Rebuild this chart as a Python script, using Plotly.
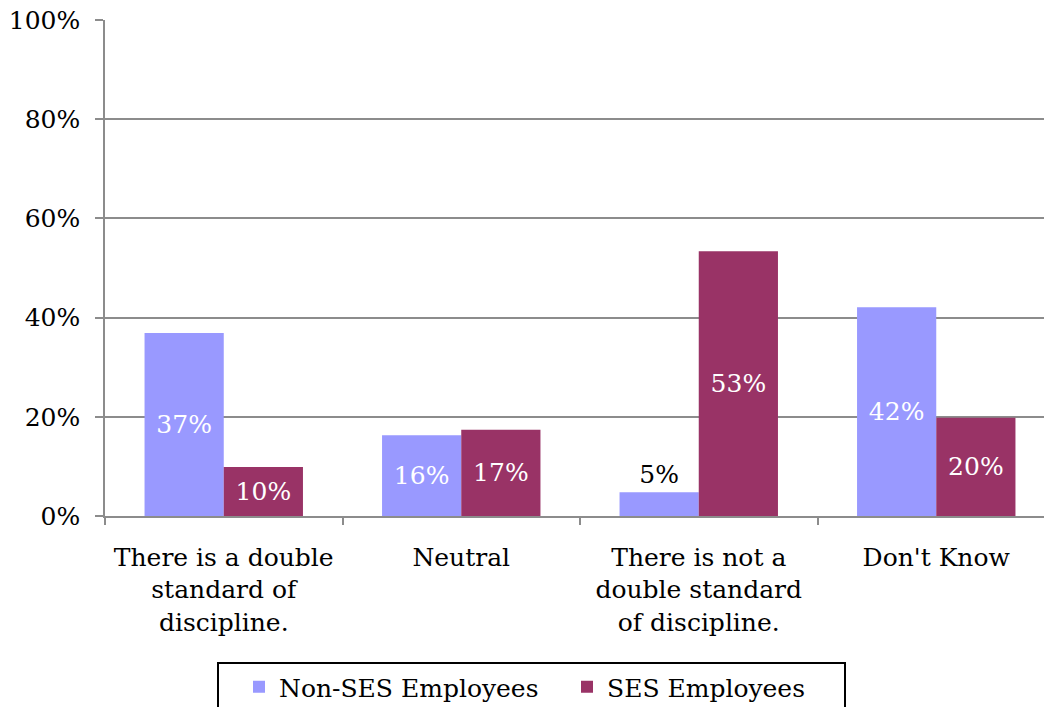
import plotly.graph_objects as go

categories = ["There is a double<br>standard of<br>discipline.", "Neutral",
              "There is not a<br>double standard<br>of discipline.", "Don't Know"]
non_ses = [0.369, 0.163, 0.048, 0.421]
ses = [0.099, 0.174, 0.534, 0.198]
series_names = ["Non-SES Employees", "SES Employees"]
colors = ["#9999FF", "#993366"]
y_ticks = [0, 0.2, 0.4, 0.6, 0.8, 1.0]

FONT = "DejaVu Serif"
FS = 25
xs = list(range(len(categories)))

fig = go.Figure()
for name, vals, col, pos in [
    (series_names[0], non_ses, colors[0], ["inside", "inside", "outside", "inside"]),
    (series_names[1], ses, colors[1], ["inside"] * 4),
]:
    fig.add_trace(go.Bar(
        x=xs, y=vals, name=name, marker=dict(color=col, line=dict(width=0)),
        text=[f"{round(v*100)}%" for v in vals], textposition=pos,
        insidetextanchor="middle", constraintext="none", cliponaxis=False,
        insidetextfont=dict(family=FONT, size=FS, color="white"),
        outsidetextfont=dict(family=FONT, size=FS, color="black"),
        hoverinfo="skip",
    ))

# plot area in pixels: x 105..1044, y 20..516
PL, PR, PT, PB = 105, 1044, 20, 516
xr = [-0.5, -0.5 + (PR - PL) / 237.5]


def px_x(p):
    return (p - PL) / (PR - PL)


def px_y(p):
    return (PB - p) / (PB - PT)


fig.update_layout(
    width=1044, height=707,
    margin=dict(l=PL, r=1044 - PR, t=PT, b=707 - PB),
    paper_bgcolor="white", plot_bgcolor="white",
    barmode="group", bargap=0.333, bargroupgap=0,
    font=dict(family=FONT, size=FS, color="black"),
    xaxis=dict(range=xr, tickvals=xs, ticktext=categories, ticks="",
               ticklabelstandoff=18,
               showgrid=False, showline=True, linecolor="#8C8C8C", linewidth=1.5,
               zeroline=False, tickfont=dict(family=FONT, size=FS, color="black")),
    xaxis2=dict(range=xr, overlaying="x", side="bottom", anchor="y",
                tickvals=[-0.5, 0.5, 1.5, 2.5, 3.5], ticks="outside", ticklen=8,
                tickcolor="#8C8C8C", tickwidth=1.5, showticklabels=False,
                showgrid=False, showline=False, zeroline=False),
    yaxis=dict(range=[0, 1], tickvals=y_ticks, tickformat=".0%", ticks="outside",
               ticklen=8, tickcolor="#8C8C8C", tickwidth=1.5, ticklabelstandoff=10,
               showgrid=True, gridcolor="#8C8C8C", gridwidth=1.5,
               showline=True, linecolor="#8C8C8C", linewidth=1.5, zeroline=False,
               tickfont=dict(family=FONT, size=FS, color="black")),
    legend=dict(orientation="h", xref="container", yref="container",
                x=239 / 1044, xanchor="left", y=1 - 664 / 707, yanchor="top",
                borderwidth=0, bgcolor="rgba(0,0,0,0)", entrywidth=283,
                font=dict(family=FONT, size=FS, color="black")),
    showlegend=True,
    shapes=[dict(type="rect", xref="paper", yref="paper",
                 x0=px_x(218), x1=px_x(845), y0=px_y(663), y1=px_y(730),
                 line=dict(color="black", width=2), fillcolor="rgba(0,0,0,0)",
                 layer="above")],
)
# invisible trace to activate the tick-only overlay axis
fig.add_trace(go.Scatter(x=[0], y=[0], xaxis="x2", mode="markers",
                         marker=dict(opacity=0), showlegend=False, hoverinfo="skip"))
fig.write_html("out.html", config={"displayModeBar": False},
               post_script="document.body.style.margin='0';")
